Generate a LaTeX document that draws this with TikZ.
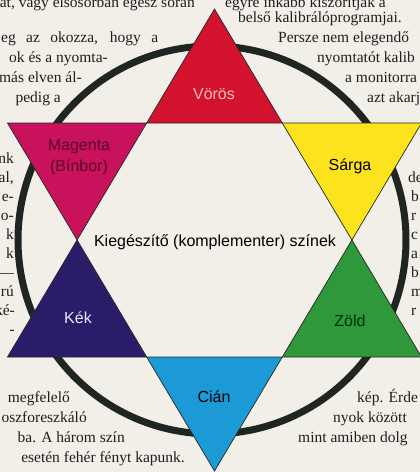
\documentclass[tikz,border=0pt]{standalone}
\usepackage{fontspec}
\setmainfont{Liberation Serif}
\newfontfamily\labelfont{Liberation Sans}
\definecolor{paper}{HTML}{F1EFE7}
\definecolor{ringc}{HTML}{1F2521}
\definecolor{cred}{HTML}{D3122E}
\definecolor{cmag}{HTML}{C8125C}
\definecolor{cyel}{HTML}{FDE21E}
\definecolor{cgrn}{HTML}{2F983B}
\definecolor{cblu}{HTML}{2B1C6A}
\definecolor{ccya}{HTML}{1C9AD6}
\begin{document}
\begin{tikzpicture}[x=1pt,y=-1pt,
  body/.style={font=\fontsize{15.5}{18}\selectfont, inner sep=0pt, text=black!88},
  lab/.style={font=\labelfont\fontsize{16}{19}\selectfont, inner sep=0pt},
  tri/.style={draw=black!85, line width=0.7pt, line join=miter},
  ring/.style={draw=ringc, line width=7pt}]
\fill[paper] (0,0) rectangle (420,472);
\useasboundingbox (0,0) rectangle (420,472);
% ring
\coordinate (O) at (212,240);
\draw[ring] (O) circle[radius=194pt];
% hexagram points
\coordinate (T) at (214.5,9);
\coordinate (Bt) at (214.5,471);
\coordinate (UL) at (7.5,123);
\coordinate (UR) at (421.5,123);
\coordinate (LL) at (7.5,357);
\coordinate (LR) at (421.5,357);
\coordinate (H1) at (146.7,123);
\coordinate (H2) at (282.3,123);
\coordinate (H3) at (351.9,240);
\coordinate (H4) at (282.3,357);
\coordinate (H5) at (146.7,357);
\coordinate (H6) at (77.1,240);
% hexagon interior
\fill[paper] (H1) -- (H2) -- (H3) -- (H4) -- (H5) -- (H6) -- cycle;
% coloured points
\fill[cred] (T) -- (H2) -- (H1) -- cycle;
\fill[cmag] (UL) -- (H1) -- (H6) -- cycle;
\fill[cyel] (H2) -- (UR) -- (H3) -- cycle;
\fill[cblu] (H6) -- (H5) -- (LL) -- cycle;
\fill[cgrn] (H3) -- (LR) -- (H4) -- cycle;
\fill[ccya] (H5) -- (H4) -- (Bt) -- cycle;
% outlines of the two big triangles
\draw[tri] (T) -- (LR) -- (LL) -- cycle;
\draw[tri] (UL) -- (UR) -- (Bt) -- cycle;
% labels
\node[lab, text=red!25!white] (vor) at (214,94) {Vörös};
\node[lab, text=cmag!45!black] (mag) at (79,147) {Magenta};
\node[lab, text=cmag!45!black] (bin) at (79,167) {(Bínbor)};
\node[lab, text=black] (sar) at (350,166) {Sárga};
\node[lab, text=white!90!blue] (kek) at (78,318) {Kék};
\node[lab, text=black!80!green] (zol) at (350,321) {Zöld};
\node[lab, text=black] (cia) at (214,397) {Cián};
\node[lab, text=black] (kie) at (215,242) {Kiegészítő (komplementer) színek};
% body text, top left
\node[body, anchor=base east] (t1) at (195,7) {át, vagy elsősorban egész során};
\node[body, anchor=base west] (t2) at (1,42) {\makebox[157pt][s]{eg az okozza, hogy a}};
\node[body, anchor=base east] (t3) at (108,62) {ok és a nyomta-};
\node[body, anchor=base east] (t4) at (82,82) {más elven ál-};
\node[body, anchor=base east] (t5) at (61,102) {pedig a};
% top right
\node[body, anchor=base west] (r1) at (225,7) {egyre inkább kiszorítják a};
\node[body, anchor=base west] (r2) at (238,22) {belső kalibrálóprogramjai.};
\node[body, anchor=base west] (r3) at (278,42) {Persze nem elegendő};
\node[body, anchor=base west] (r4) at (317,62) {nyomtatót kalib};
\node[body, anchor=base west] (r5) at (345,82) {a monitorra};
\node[body, anchor=base west] (r6) at (367,102) {azt akarj};
% left column
\node[body, anchor=base east] (l1) at (14,163) {nk};
\node[body, anchor=base east] (l2) at (14,182) {al,};
\node[body, anchor=base east] (l3) at (14,201) {e-};
\node[body, anchor=base east] (l4) at (14,220) {o-};
\node[body, anchor=base east] (l5) at (14,239) {k};
\node[body, anchor=base east] (l6) at (14,258) {k};
\node[body, anchor=base east] (l7) at (14,277) {—};
\node[body, anchor=base east] (l8) at (14,296) {rú};
\node[body, anchor=base east] (l9) at (15,315) {ké-};
\node[body, anchor=base east] (l10) at (15,334) {-};
% right column
\node[body, anchor=base west] (q1) at (408,182) {de};
\node[body, anchor=base west] (q2) at (411,201) {b};
\node[body, anchor=base west] (q3) at (411,220) {r};
\node[body, anchor=base west] (q4) at (411,239) {c};
\node[body, anchor=base west] (q5) at (411,258) {a};
\node[body, anchor=base west] (q6) at (411,277) {b};
\node[body, anchor=base west] (q7) at (411,296) {m};
\node[body, anchor=base west] (q8) at (411,315) {r};
% bottom left
\node[body, anchor=base east] (b1) at (70,402) {megfelelő};
\node[body, anchor=base east] (b2) at (87,422) {oszforeszkáló};
\node[body, anchor=base east] (b3) at (125,442) {ba. A három szín};
\node[body, anchor=base east] (b4) at (185,462) {esetén fehér fényt kapunk.};
% bottom right
\node[body, anchor=base west] (c1) at (357,402) {kép. Érde};
\node[body, anchor=base west] (c2) at (333,422) {nyok között};
\node[body, anchor=base west] (c3) at (298,442) {mint amiben dolg};
\end{tikzpicture}
\end{document}
